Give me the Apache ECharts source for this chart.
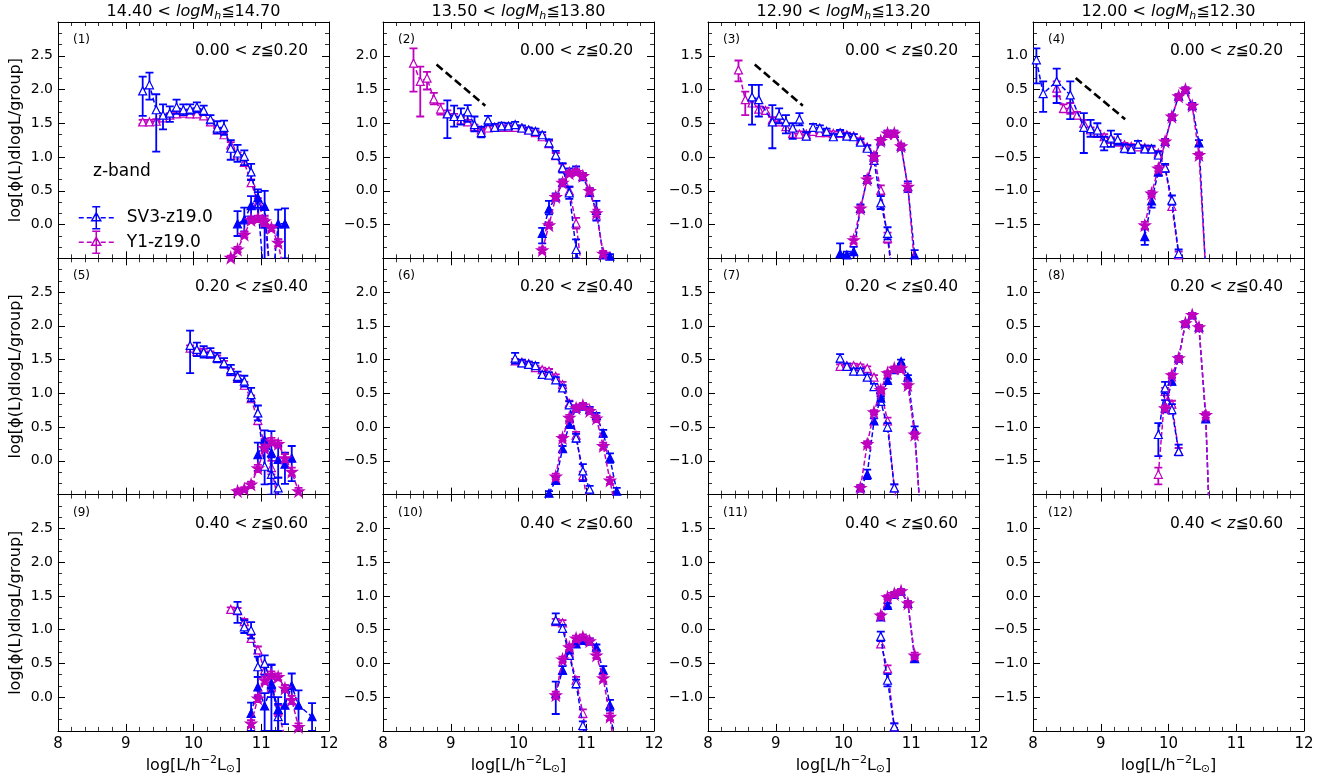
<!DOCTYPE html>
<html><head><meta charset="utf-8">
<script src="https://cdn.jsdelivr.net/npm/echarts@6/dist/echarts.min.js"></script>
<style>html,body{margin:0;padding:0;background:#fff}#c{width:1335px;height:783px}</style>
</head><body><div id="c"></div><script>
// ---------------- DATA: [x, y, err] or [x, y, lo, hi] ----------------
const massLo = ['14.40','13.50','12.90','12.00'];
const massHi = ['14.70','13.80','13.20','12.30'];
const zLo = ['0.00','0.20','0.40'];
const zHi = ['0.20','0.40','0.60'];
const yMins = [-0.5, -1.0, -1.5, -2.0];
const xTicks = [8, 9, 10, 11, 12];

// Panel 1
const p1_sv3_sat = [[9.25,1.98,1.61,2.19],[9.35,2.07,1.85,2.25],[9.45,1.70,1.08,1.93],[9.55,1.62,1.41,1.78],[9.65,1.65,1.52,1.75],[9.75,1.74,1.64,1.85],[9.85,1.70,1.62,1.78],[9.95,1.71,1.64,1.78],[10.05,1.74,1.66,1.81],[10.15,1.69,1.62,1.76],[10.25,1.56,1.50,1.62],[10.35,1.43,1.35,1.53],[10.45,1.44,1.33,1.54],[10.55,1.13,0.96,1.25],[10.65,1.06,0.93,1.18],[10.75,1.01,0.88,1.10],[10.85,0.78,0.66,0.90],[10.95,0.29,0.05,0.48],[11.05,-0.90,-1.5,-0.05]];
const p1_sv3_cen = [[10.65,0.01,-0.17,0.20],[10.75,0.07,-0.10,0.25],[10.85,0.28,0.12,0.42],[10.95,0.40,0.25,0.52],[11.05,0.27,0.05,0.50],[11.15,-1.00],[11.25,0.01,-0.22,0.22],[11.35,0.01,-0.50,0.24]];
const p1_y1_sat = [[9.25,1.52,0.03],[9.35,1.52,0.03],[9.45,1.53,0.03],[9.55,1.58,0.03],[9.65,1.62,0.03],[9.75,1.64,0.03],[9.85,1.65,0.03],[9.95,1.64,0.03],[10.05,1.64,0.03],[10.15,1.61,0.03],[10.25,1.52,0.03],[10.35,1.40,0.03],[10.45,1.33,0.03],[10.55,1.18,0.04],[10.65,1.03,0.04],[10.75,0.92,0.04],[10.85,0.62,0.05],[10.95,0.33,0.06],[11.05,0.05,0.08],[11.15,-0.90]];
const p1_y1_cen = [[10.55,-0.49,0.03],[10.65,-0.37,0.04],[10.75,-0.15,0.04],[10.85,0.07,0.04],[10.95,0.09,0.04],[11.05,0.05,0.04],[11.15,-0.05,0.04],[11.25,-0.27,0.05],[11.35,-0.80]];
// Panel 2
const p2_sv3_sat = [[8.95,1.14,0.78,1.34],[9.05,1.10,0.95,1.26],[9.15,1.10,0.98,1.22],[9.25,1.17,1.02,1.27],[9.35,0.98,0.88,1.10],[9.45,0.86,0.79,0.95],[9.55,1.05,0.97,1.11],[9.65,0.94,0.05],[9.75,0.96,0.05],[9.85,0.96,0.04],[9.95,0.98,0.04],[10.05,0.93,0.04],[10.15,0.90,0.04],[10.25,0.88,0.04],[10.35,0.83,0.04],[10.45,0.71,0.05],[10.55,0.53,0.06],[10.65,0.34,0.07],[10.75,-0.03,0.09],[10.85,-0.87,-1.0,-0.72],[10.95,-1.40]];
const p2_sv3_cen = [[10.35,-0.63,-0.78,-0.55],[10.45,-0.27,-0.35,-0.15],[10.55,-0.09,0.05],[10.65,0.12,0.05],[10.75,0.28,0.05],[10.85,0.31,0.05],[10.95,0.21,0.05],[11.05,-0.02,0.06],[11.15,-0.29,-0.44,-0.15],[11.25,-0.95,0.04],[11.35,-0.97,0.03]];
const p2_y1_sat = [[8.45,1.89,1.47,2.11],[8.55,1.62,1.10,1.84],[8.65,1.67,1.50,1.76],[8.75,1.36,1.28,1.45],[8.85,1.21,1.13,1.29],[8.95,1.15,0.04],[9.05,1.10,0.04],[9.15,1.05,0.04],[9.25,1.02,0.03],[9.35,0.95,0.03],[9.45,0.90,0.03],[9.55,0.93,0.03],[9.65,0.94,0.03],[9.75,0.94,0.03],[9.85,0.94,0.03],[9.95,0.94,0.03],[10.05,0.93,0.03],[10.15,0.90,0.03],[10.25,0.86,0.03],[10.35,0.80,0.03],[10.45,0.70,0.04],[10.55,0.52,0.04],[10.65,0.35,0.05],[10.75,0.00,0.06],[10.85,-0.48,0.08],[10.95,-1.30]];
const p2_y1_cen = [[10.35,-0.88,0.04],[10.45,-0.51,0.04],[10.55,-0.09,0.04],[10.65,0.12,0.04],[10.75,0.26,0.04],[10.85,0.28,0.04],[10.95,0.22,0.04],[11.05,0.00,0.04],[11.15,-0.33,0.05],[11.25,-0.93,0.04],[11.35,-1.30]];
// Panel 3
const p3_sv3_sat = [[8.65,0.89,0.48,1.07],[8.75,0.85,0.60,1.07],[8.95,0.52,0.13,0.77],[9.05,0.62,0.50,0.72],[9.15,0.52,0.35,0.62],[9.25,0.43,0.27,0.50],[9.35,0.56,0.47,0.65],[9.45,0.31,0.26,0.37],[9.55,0.44,0.05],[9.65,0.43,0.04],[9.75,0.38,0.04],[9.85,0.30,0.04],[9.95,0.36,0.04],[10.05,0.31,0.04],[10.15,0.30,0.04],[10.25,0.22,0.04],[10.35,0.13,0.04],[10.45,-0.05,0.05],[10.55,-0.68,-0.77,-0.58],[10.65,-1.13,-1.22,-1.04],[10.75,-2.0]];
const p3_sv3_cen = [[9.95,-1.43,-1.6,-1.28],[10.05,-1.45,-1.6,-1.40],[10.15,-1.40,-1.6,-1.33],[10.25,-0.76,0.06],[10.35,-0.33,0.05],[10.45,0.00,0.05],[10.55,0.24,0.04],[10.65,0.35,0.04],[10.75,0.35,0.04],[10.85,0.16,0.04],[10.95,-0.44,0.08],[11.05,-1.45,-1.6,-1.38]];
const p3_y1_sat = [[8.45,1.29,1.12,1.43],[8.55,0.85,0.62,0.97],[8.65,0.80,0.04],[8.75,0.71,0.04],[8.85,0.69,0.04],[8.95,0.55,0.04],[9.05,0.52,0.04],[9.15,0.45,0.04],[9.25,0.35,0.04],[9.35,0.34,0.04],[9.45,0.34,0.03],[9.55,0.38,0.03],[9.65,0.36,0.03],[9.75,0.36,0.03],[9.85,0.35,0.03],[9.95,0.35,0.03],[10.05,0.33,0.03],[10.15,0.31,0.03],[10.25,0.25,0.03],[10.35,0.15,0.03],[10.45,0.02,0.04],[10.55,-0.49,-0.56,-0.42],[10.65,-1.20,-1.27,-1.12],[10.75,-2.0]];
const p3_y1_cen = [[10.15,-1.23,0.05],[10.25,-0.76,0.04],[10.35,-0.33,0.04],[10.45,0.00,0.04],[10.55,0.24,0.04],[10.65,0.35,0.04],[10.75,0.35,0.04],[10.85,0.16,0.04],[10.95,-0.44,0.05],[11.05,-1.60]];
// Panel 4
const p4_sv3_sat = [[8.05,0.94,0.59,1.11],[8.15,0.44,0.17,0.62],[8.35,0.62,0.30,0.81],[8.55,0.42,0.06,0.62],[8.75,-0.06,-0.44,0.15],[8.85,-0.08,-0.20,0.05],[8.95,-0.10,-0.20,0.00],[9.05,-0.29,-0.40,-0.20],[9.15,-0.22,-0.35,-0.11],[9.25,-0.24,-0.32,-0.16],[9.35,-0.37,0.06],[9.45,-0.38,0.06],[9.55,-0.31,0.05],[9.65,-0.38,0.05],[9.75,-0.38,0.05],[9.85,-0.47,0.05],[9.95,-0.66,0.06],[10.05,-1.14,0.07],[10.15,-1.93,0.06]];
const p4_sv3_cen = [[9.65,-1.68,-1.80,-1.57],[9.75,-1.15,-1.25,-1.05],[9.85,-0.72,0.06],[9.95,-0.27,0.04],[10.05,0.10,0.03],[10.15,0.40,0.03],[10.25,0.50,0.03],[10.35,0.26,0.04],[10.45,-0.29,0.04],[10.55,-2.20]];
const p4_y1_sat = [[8.35,0.52,0.40,0.62],[8.45,0.22,0.06],[8.55,0.22,0.08],[8.65,0.12,0.05],[8.75,0.00,0.05],[8.85,-0.10,0.04],[8.95,-0.15,0.04],[9.05,-0.20,0.04],[9.15,-0.24,0.03],[9.25,-0.28,0.03],[9.35,-0.32,0.03],[9.45,-0.34,0.03],[9.55,-0.35,0.03],[9.65,-0.36,0.03],[9.75,-0.38,0.03],[9.85,-0.44,0.03],[9.95,-0.66,0.04],[10.05,-1.23,0.05],[10.15,-1.95,0.05]];
const p4_y1_cen = [[9.65,-1.51,0.05],[9.75,-1.04,0.04],[9.85,-0.67,0.04],[9.95,-0.27,0.03],[10.05,0.10,0.03],[10.15,0.40,0.03],[10.25,0.50,0.03],[10.35,0.26,0.03],[10.45,-0.47,0.04],[10.55,-2.20]];
// Panel 5
const p5_sv3_sat = [[9.95,1.71,1.30,1.93],[10.05,1.65,1.55,1.75],[10.15,1.61,1.53,1.70],[10.25,1.60,1.53,1.67],[10.35,1.53,1.46,1.60],[10.45,1.45,1.38,1.52],[10.55,1.35,1.27,1.42],[10.65,1.25,1.17,1.32],[10.75,1.18,1.10,1.26],[10.85,0.98,0.88,1.08],[10.95,0.71,0.60,0.82],[11.05,-0.08,-0.35,0.20],[11.15,-0.20,-0.50,0.05],[11.25,-0.40,-0.50,-0.25]];
const p5_sv3_cen = [[10.95,0.09,-0.15,0.27],[11.05,0.31,0.15,0.45],[11.15,0.12,-0.34,0.44],[11.25,0.02,-0.25,0.22],[11.35,-0.05,-0.34,0.12],[11.45,0.04,-0.30,0.22]];
const p5_y1_sat = [[9.95,1.67,0.04],[10.05,1.62,0.04],[10.15,1.62,0.04],[10.25,1.58,0.04],[10.35,1.52,0.04],[10.45,1.44,0.04],[10.55,1.32,0.04],[10.65,1.22,0.05],[10.75,1.12,0.05],[10.85,0.92,0.05],[10.95,0.60,0.06],[11.05,0.25,0.08],[11.15,-0.10,0.10],[11.25,-0.60]];
const p5_y1_cen = [[10.65,-0.45,0.03],[10.75,-0.42,0.03],[10.85,-0.35,0.04],[10.95,-0.11,0.05],[11.05,0.19,0.05],[11.15,0.29,0.05],[11.25,0.25,0.05],[11.35,0.04,0.06],[11.45,-0.16,0.06],[11.55,-0.45,0.05]];
// Panel 6
const p6_sv3_sat = [[9.95,1.02,0.94,1.10],[10.05,0.95,0.90,1.00],[10.15,0.93,0.04],[10.25,0.91,0.04],[10.35,0.78,0.04],[10.45,0.77,0.04],[10.55,0.70,0.04],[10.65,0.58,0.04],[10.75,0.33,0.05],[10.85,-0.16,0.06],[10.95,-0.65,-0.80,-0.55],[11.05,-0.92,0.05],[11.15,-1.30]];
const p6_sv3_cen = [[10.45,-0.98,0.03],[10.55,-0.79,0.05],[10.65,-0.32,0.04],[10.75,0.04,0.04],[10.85,0.28,0.04],[10.95,0.31,0.04],[11.05,0.26,0.04],[11.15,0.17,0.04],[11.25,-0.09,0.05],[11.35,-0.46,0.07],[11.45,-0.95,0.05]];
const p6_y1_sat = [[9.95,0.98,0.03],[10.05,0.96,0.03],[10.15,0.94,0.03],[10.25,0.88,0.03],[10.35,0.85,0.03],[10.45,0.83,0.03],[10.55,0.75,0.03],[10.65,0.63,0.04],[10.75,0.35,0.04],[10.85,-0.12,0.05],[10.95,-0.72,0.06],[11.05,-1.30]];
const p6_y1_cen = [[10.55,-0.73,0.04],[10.65,-0.16,0.04],[10.75,0.14,0.04],[10.85,0.28,0.04],[10.95,0.32,0.04],[11.05,0.24,0.04],[11.15,0.13,0.04],[11.25,-0.28,0.05],[11.35,-0.79,0.05],[11.45,-1.30]];
// Panel 7
const p7_sv3_sat = [[9.95,0.52,0.06],[10.05,0.40,0.04],[10.15,0.33,0.04],[10.25,0.33,0.04],[10.35,0.24,0.04],[10.45,0.10,0.04],[10.55,-0.12,0.05],[10.65,-0.50,0.06],[10.75,-1.40,0.05],[10.85,-2.00]];
const p7_sv3_cen = [[10.25,-1.40,0.04],[10.35,-1.20,0.07],[10.45,-0.41,0.04],[10.55,-0.07,0.03],[10.65,0.19,0.03],[10.75,0.35,0.03],[10.85,0.47,0.03],[10.95,0.24,0.03],[11.05,-0.54,0.05],[11.15,-2.00]];
const p7_y1_sat = [[9.95,0.40,0.03],[10.05,0.41,0.03],[10.15,0.41,0.03],[10.25,0.40,0.03],[10.35,0.37,0.03],[10.45,0.24,0.03],[10.55,0.05,0.04],[10.65,-0.41,0.05],[10.75,-1.40,0.05],[10.85,-2.00]];
const p7_y1_cen = [[10.25,-1.40,0.04],[10.35,-0.75,0.04],[10.45,-0.28,0.03],[10.55,0.05,0.03],[10.65,0.30,0.03],[10.75,0.37,0.03],[10.85,0.37,0.03],[10.95,0.12,0.03],[11.05,-0.61,0.04],[11.15,-2.00]];
// Panel 8
const p8_sv3_sat = [[9.85,-1.11,-1.43,-0.94],[9.95,-0.42,-0.50,-0.33],[10.05,-0.74,-0.80,-0.66],[10.15,-1.36,-1.42,-1.26]];
const p8_sv3_cen = [[9.95,-0.72,-0.78,-0.60],[10.05,-0.32,-0.37,-0.27],[10.15,0.02,0.03],[10.25,0.54,0.03],[10.35,0.66,0.03],[10.45,0.48,0.03],[10.55,-0.88,-0.92,-0.82],[10.65,-3.70]];
const p8_y1_sat = [[9.85,-1.70,-1.85,-1.60],[9.95,-0.47,0.05],[10.05,-0.66,0.05],[10.15,-1.36,0.05]];
const p8_y1_cen = [[9.95,-0.72,0.04],[10.05,-0.23,0.03],[10.15,0.02,0.03],[10.25,0.54,0.03],[10.35,0.66,0.03],[10.45,0.48,0.03],[10.55,-0.82,0.04],[10.65,-3.70]];
// Panel 9
const p9_sv3_sat = [[10.65,1.29,1.10,1.41],[10.75,1.04,0.95,1.14],[10.85,0.99,0.87,1.11],[10.95,0.45,0.30,0.60],[11.05,0.50,0.33,0.62],[11.15,0.20,0.00,0.48],[11.25,-0.29,-0.50,0.00]];
const p9_sv3_cen = [[10.85,-0.24,-0.50,-0.08],[10.95,0.15,0.00,0.30],[11.05,-0.13,-0.50,0.06],[11.15,0.18,-0.50,0.48],[11.25,-0.18,-0.50,-0.10],[11.35,-0.12,-0.40,0.10],[11.45,0.17,-0.10,0.35],[11.55,-0.12,-0.50,0.10],[11.75,-0.29,-0.50,-0.09]];
const p9_y1_sat = [[10.55,1.30,0.03],[10.65,1.28,0.04],[10.75,1.12,0.04],[10.85,0.87,0.05],[10.95,0.70,0.05],[11.05,0.40,0.06],[11.15,0.15,0.07],[11.25,-0.20,0.08],[11.35,-0.60]];
const p9_y1_cen = [[10.85,-0.39,0.05],[10.95,-0.02,0.05],[11.05,0.25,0.05],[11.15,0.33,0.05],[11.25,0.30,0.05],[11.35,0.13,0.05],[11.45,-0.04,0.06],[11.55,-0.44,0.05]];
// Panel 10
const p10_sv3_sat = [[10.55,0.64,0.57,0.74],[10.65,0.52,0.05],[10.75,0.12,0.05],[10.85,-0.30,0.06],[10.95,-0.92,0.06],[11.05,-1.50]];
const p10_sv3_cen = [[10.55,-0.45,-0.75,-0.27],[10.65,-0.10,0.06],[10.75,0.20,0.04],[10.85,0.29,0.04],[10.95,0.34,0.04],[11.05,0.33,0.04],[11.15,0.24,0.04],[11.25,-0.10,0.06],[11.35,-0.62,0.08],[11.45,-1.50]];
const p10_y1_sat = [[10.55,0.62,0.04],[10.65,0.60,0.04],[10.75,0.15,0.04],[10.85,-0.25,0.05],[10.95,-0.74,0.06],[11.05,-1.40]];
const p10_y1_cen = [[10.55,-0.47,0.05],[10.65,0.06,0.04],[10.75,0.24,0.04],[10.85,0.37,0.04],[10.95,0.39,0.04],[11.05,0.33,0.04],[11.15,0.12,0.04],[11.25,-0.22,0.05],[11.35,-0.79,0.05],[11.45,-1.50]];
// Panel 11
const p11_sv3_sat = [[10.55,-0.10,0.07],[10.65,-0.75,0.09],[10.75,-1.44,0.05],[10.85,-2.20]];
const p11_sv3_cen = [[10.55,0.19,0.04],[10.65,0.36,0.03],[10.75,0.52,0.03],[10.85,0.57,0.03],[10.95,0.39,0.03],[11.05,-0.43,0.04]];
const p11_y1_sat = [[10.55,-0.21,0.04],[10.65,-0.58,0.05],[10.75,-1.44,0.05],[10.85,-2.20]];
const p11_y1_cen = [[10.55,0.21,0.03],[10.65,0.48,0.03],[10.75,0.53,0.03],[10.85,0.57,0.03],[10.95,0.39,0.03],[11.05,-0.38,0.04]];
// Reference slope lines (panels 2-4)
const ref_p2 = [[8.79,1.87],[9.51,1.26]];
const ref_p3 = [[8.69,1.37],[9.40,0.76]];
const ref_p4 = [[8.63,0.67],[9.36,0.06]];

const panels = [
  {sv3Sat:p1_sv3_sat, sv3Cen:p1_sv3_cen, y1Sat:p1_y1_sat, y1Cen:p1_y1_cen},
  {sv3Sat:p2_sv3_sat, sv3Cen:p2_sv3_cen, y1Sat:p2_y1_sat, y1Cen:p2_y1_cen, ref:ref_p2},
  {sv3Sat:p3_sv3_sat, sv3Cen:p3_sv3_cen, y1Sat:p3_y1_sat, y1Cen:p3_y1_cen, ref:ref_p3},
  {sv3Sat:p4_sv3_sat, sv3Cen:p4_sv3_cen, y1Sat:p4_y1_sat, y1Cen:p4_y1_cen, ref:ref_p4},
  {sv3Sat:p5_sv3_sat, sv3Cen:p5_sv3_cen, y1Sat:p5_y1_sat, y1Cen:p5_y1_cen},
  {sv3Sat:p6_sv3_sat, sv3Cen:p6_sv3_cen, y1Sat:p6_y1_sat, y1Cen:p6_y1_cen},
  {sv3Sat:p7_sv3_sat, sv3Cen:p7_sv3_cen, y1Sat:p7_y1_sat, y1Cen:p7_y1_cen},
  {sv3Sat:p8_sv3_sat, sv3Cen:p8_sv3_cen, y1Sat:p8_y1_sat, y1Cen:p8_y1_cen},
  {sv3Sat:p9_sv3_sat, sv3Cen:p9_sv3_cen, y1Sat:p9_y1_sat, y1Cen:p9_y1_cen},
  {sv3Sat:p10_sv3_sat, sv3Cen:p10_sv3_cen, y1Sat:p10_y1_sat, y1Cen:p10_y1_cen},
  {sv3Sat:p11_sv3_sat, sv3Cen:p11_sv3_cen, y1Sat:p11_y1_sat, y1Cen:p11_y1_cen},
  {}
];

// ---------------- LAYOUT / STYLE ----------------
const GL=58, GW=271, GDX=325, GT=22, GH=236.3;
const FONT='DejaVu Sans';
const BLUE='#0000ff', MAG='#bf00bf';
const STAR='path://M50 0L61.2 34.5L97.6 34.5L68.2 55.9L79.4 90.5L50 69.1L20.6 90.5L31.8 55.9L2.4 34.5L38.8 34.5Z';
const LEG_ICON='path://M0 11L5 11M8 11L13 11M22 11L27 11M30 11L35 11M17.5 0L17.5 22M13.5 0L21.5 0M13.5 22L21.5 22M17.5 6L22 14L13 14Z';
const SV3='SV3-z19.0', Y1='Y1-z19.0';

function errData(arr){
  return arr.filter(d=>d.length>2).map(d=> d.length===3 ? [d[0], d[1]-d[2], d[1]+d[2]] : [d[0], d[2], d[3]]);
}
function errSeries(name, arr, color, gi, z){
  return {
    type:'custom', name, xAxisIndex:gi, yAxisIndex:gi, clip:true, silent:true, z,
    encode:{x:0, y:[1,2]},
    data: errData(arr),
    renderItem(params, api){
      const x=api.value(0), lo=api.value(1), hi=api.value(2);
      const a=api.coord([x,lo]), b=api.coord([x,hi]);
      const w=4, st={stroke:color, lineWidth:1.8};
      return {type:'group', children:[
        {type:'line', shape:{x1:a[0],y1:a[1],x2:b[0],y2:b[1]}, style:st},
        {type:'line', shape:{x1:a[0]-w,y1:a[1],x2:a[0]+w,y2:a[1]}, style:st},
        {type:'line', shape:{x1:b[0]-w,y1:b[1],x2:b[0]+w,y2:b[1]}, style:st}
      ]};
    }
  };
}
function lineSeries(name, arr, color, gi, z, symbol, size, fill){
  return {
    type:'line', name, xAxisIndex:gi, yAxisIndex:gi, clip:true, silent:true, z,
    data: arr.map(d=>[d[0], d[1]]),
    symbol, symbolSize:size, showSymbol:true, showAllSymbol:true,
    lineStyle:{color, width:1.5, type:[5,2.5]},
    itemStyle:{color:fill, borderColor:color, borderWidth:1.2}
  };
}

const grids=[], xAxes=[], yAxes=[], series=[], graphics=[];
const tick={show:true, inside:true, length:7, lineStyle:{color:'#000', width:1}};
const axLine={show:true, onZero:false, lineStyle:{color:'#000', width:1}};
const xMinor={show:true, splitNumber:5, length:4, lineStyle:{color:'#000', width:0.8}};
const yMinor={show:true, splitNumber:3, length:4, lineStyle:{color:'#000', width:0.8}};

for(let i=0;i<12;i++){
  const r=Math.floor(i/4), c=i%4;
  const left=GL+GDX*c, top=GT+GH*r;
  const ymin=yMins[c], ymax=yMins[c]+3.5;
  grids.push({left, top, width:GW, height:GH, containLabel:false, outerBoundsMode:'none', show:false});
  xAxes.push({type:'value', gridIndex:i, position:'bottom', min:xTicks[0], max:xTicks[xTicks.length-1], interval:1,
    axisLine:axLine, axisTick:tick, minorTick:xMinor, splitLine:{show:false}, minorSplitLine:{show:false},
    axisLabel:{show:r===2, color:'#000', fontSize:15, fontFamily:FONT, margin:6, showMinLabel:true, showMaxLabel:true},
    name: r===2 ? '{a|log[L/h}{sup|−2}{a|L}{sub|⊙}{a|]}' : '', nameLocation:'middle', nameGap:24, nameMoveOverlap:false,
    nameTextStyle:{color:'#000', fontFamily:FONT, rich:{
      a:{fontSize:16, fontFamily:FONT, color:'#000'},
      sup:{fontSize:11, fontFamily:FONT, color:'#000', padding:[0,0,10,0]},
      sub:{fontSize:11, fontFamily:FONT, color:'#000', padding:[8,0,0,0]}}}
  });
  yAxes.push({type:'value', gridIndex:i, position:'left', min:ymin, max:ymax, interval:0.5,
    axisLine:axLine, axisTick:tick, minorTick:yMinor, splitLine:{show:false}, minorSplitLine:{show:false},
    axisLabel:{show:true, color:'#000', fontSize:14, fontFamily:FONT, margin:5,
      formatter:v=> (Math.abs(v-ymin)<1e-6||Math.abs(v-ymax)<1e-6) ? '' : v.toFixed(1).replace('-','−')},
    name: c===0 ? 'log[ϕ(L)dlogL/group]' : '', nameLocation:'middle', nameGap:34, nameMoveOverlap:false,
    nameTextStyle:{color:'#000', fontSize:16, fontFamily:FONT}
  });
  const P=panels[i];
  if(P.y1Sat){
    series.push(errSeries(Y1, P.y1Sat, MAG, i, 2));
    series.push(lineSeries(Y1, P.y1Sat, MAG, i, 3, 'triangle', 8, '#fff'));
    series.push(errSeries(SV3, P.sv3Sat, BLUE, i, 4));
    series.push(lineSeries(SV3, P.sv3Sat, BLUE, i, 5, 'triangle', 8, '#fff'));
    series.push(errSeries(SV3, P.sv3Cen, BLUE, i, 6));
    series.push(lineSeries(SV3, P.sv3Cen, BLUE, i, 7, 'triangle', 8, BLUE));
    series.push(errSeries(Y1, P.y1Cen, MAG, i, 8));
    series.push(lineSeries(Y1, P.y1Cen, MAG, i, 9, STAR, 11, MAG));
  }
  if(P.ref){
    series.push({type:'line', name:'slope', xAxisIndex:i, yAxisIndex:i, data:P.ref, symbol:'none', silent:true, z:10,
      lineStyle:{color:'#000', width:2.6, type:[8,4]}});
  }
  graphics.push({type:'text', x:left+15, y:top+18, z:100, style:{text:'('+(i+1)+')', fill:'#000', fontSize:12, fontFamily:FONT, align:'left', verticalAlign:'middle'}});
  graphics.push({type:'text', x:left+GW-21, y:top+29, z:100, style:{text:'{a|'+zLo[r]+' < }{i|z}{a|≦'+zHi[r]+'}', fill:'#000', fontFamily:FONT, fontSize:15.5, align:'right', verticalAlign:'middle',
    rich:{a:{fontSize:15.5, fontFamily:FONT}, i:{fontSize:15.5, fontFamily:FONT, fontStyle:'italic'}}}});
}
for(let i=0;i<12;i++){
  const c=i%4, ymin=yMins[c], ymax=yMins[c]+3.5;
  xAxes.push({type:'value', gridIndex:i, position:'top', min:8, max:12, interval:1,
    axisLine:axLine, axisTick:tick, minorTick:xMinor, splitLine:{show:false}, axisLabel:{show:false}});
  yAxes.push({type:'value', gridIndex:i, position:'right', min:ymin, max:ymax, interval:0.5,
    axisLine:axLine, axisTick:tick, minorTick:yMinor, splitLine:{show:false}, axisLabel:{show:false}});
}
for(let c=0;c<4;c++){
  graphics.push({type:'text', x:GL+GDX*c+GW/2, y:12, z:100, style:{
    text:'{a|'+massLo[c]+' < }{i|logM}{s|h}{a|≦'+massHi[c]+'}', fill:'#000', fontFamily:FONT, fontSize:16, align:'center', verticalAlign:'middle',
    rich:{a:{fontSize:16, fontFamily:FONT}, i:{fontSize:16, fontFamily:FONT, fontStyle:'italic'}, s:{fontSize:11, fontFamily:FONT, fontStyle:'italic', padding:[9,0,0,0]}}}});
}
graphics.push({type:'text', x:GL+35, y:GT+150, z:100, style:{text:'z-band', fill:'#000', fontSize:17, fontFamily:FONT, align:'left', verticalAlign:'middle'}});

const chart=echarts.init(document.getElementById('c'), null, {renderer:'canvas', width:1335, height:783});
chart.setOption({
  animation:false,
  backgroundColor:'#fff',
  grid:grids, xAxis:xAxes, yAxis:yAxes, series,
  legend:{show:true, orient:'vertical', left:73, top:201, itemWidth:35, itemHeight:22, itemGap:1, selectedMode:false,
    formatter:n=>'{t|'+n+'}',
    textStyle:{fontSize:17, color:'#000', fontFamily:FONT, rich:{t:{fontSize:17, fontFamily:FONT, color:'#000', padding:[0,0,0,8]}}},
    data:[{name:SV3, icon:LEG_ICON, itemStyle:{color:'#fff', borderColor:BLUE, borderWidth:1.5}},
          {name:Y1, icon:LEG_ICON, itemStyle:{color:'#fff', borderColor:MAG, borderWidth:1.5}}]},
  graphic:graphics
});
</script></body></html>
